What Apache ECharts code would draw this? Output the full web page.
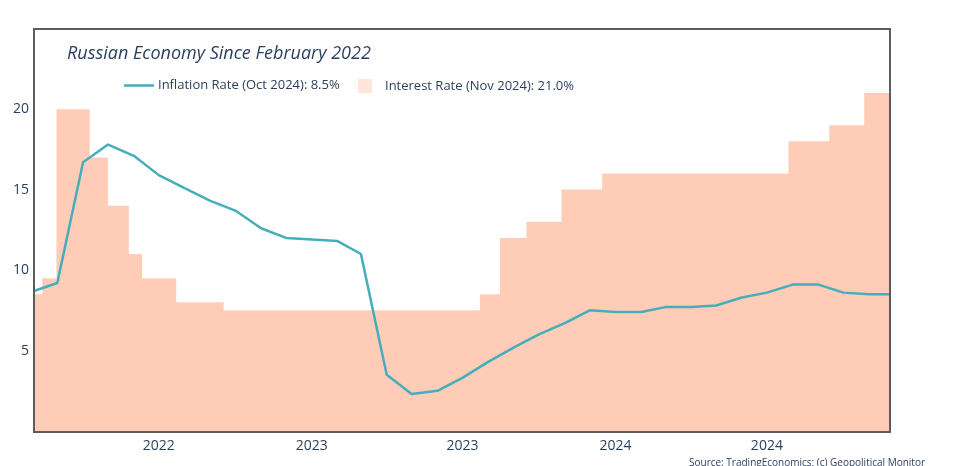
<!DOCTYPE html>
<html>
<head>
<meta charset="utf-8">
<style>
  html, body { margin: 0; padding: 0; background: #fff; overflow: hidden; }
  #chart { width: 970px; height: 466px; }
</style>
<script src="https://cdn.jsdelivr.net/npm/echarts@6/dist/echarts.min.js"></script>
</head>
<body>
<div id="chart"></div>
<script>
// 通胀率 (monthly)
var inflationDates = ['2022-02-01','2022-03-01','2022-04-01','2022-05-01','2022-06-01','2022-07-01','2022-08-01','2022-09-01','2022-10-01','2022-11-01','2022-12-01','2023-01-01','2023-02-01','2023-03-01','2023-04-01','2023-05-01','2023-06-01','2023-07-01','2023-08-01','2023-09-01','2023-10-01','2023-11-01','2023-12-01','2024-01-01','2024-02-01','2024-03-01','2024-04-01','2024-05-01','2024-06-01','2024-07-01','2024-08-01','2024-09-01','2024-10-01','2024-11-01','2024-11-26']
var inflationValues = [8.7,9.2,16.7,17.8,17.1,15.9,15.1,14.3,13.7,12.6,12.0,11.9,11.8,11.0,3.5,2.3,2.5,3.3,4.3,5.2,6.0,6.7,7.5,7.4,7.4,7.7,7.7,7.8,8.3,8.6,9.1,9.1,8.6,8.5,8.5]

// 利率 (each date is where the rate changes)
var rateDates = ['2022-02-01','2022-02-11','2022-02-28','2022-04-09','2022-05-01','2022-05-26','2022-06-11','2022-07-22','2022-09-17','2023-07-22','2023-08-15','2023-09-16','2023-10-28','2023-12-16','2024-07-27','2024-09-14','2024-10-26','2024-11-26']
var rateValues = [8.5,9.5,20,17,14,11,9.5,8,7.5,8.5,12,13,15,16,18,19,21,21]

var xTickDates = ['2022-07-01','2023-01-01','2023-07-01','2024-01-01','2024-07-01']
var yTicks = [5,10,15,20]

var inflationName = 'Inflation Rate (Oct 2024): 8.5%'
var rateName = 'Interest Rate (Nov 2024): 21.0%'
var titleText = 'Russian Economy Since February 2022'
var sourceText = 'Source: TradingEconomics; (c) Geopolitical Monitor'

var textColor = '#2a3f5f'
var fontName = '"Open Sans", sans-serif'

function ms(d) {
  return +echarts.time.parse(d)
}
function pairs(xs, ys) {
  return xs.map(function (x, i) { return [ms(x), ys[i]] })
}

var myChart = echarts.init(document.getElementById('chart'), null, { renderer: 'canvas' })
myChart.setOption({
  animation: false,
  backgroundColor: '#fff',
  title: {
    text: titleText,
    left: 67, top: 45, padding: 0,
    textStyle: { color: textColor, fontFamily: fontName, fontStyle: 'italic', fontWeight: 'normal', fontSize: 18 }
  },
  legend: [
    {
      data: [{ name: inflationName, icon: 'rect' }],
      left: 124, top: 79, padding: 0, itemWidth: 30, itemHeight: 2.5, itemGap: 0,
      textStyle: { color: textColor, fontFamily: fontName, fontSize: 13, padding: [2, 0, 0, -1] }
    },
    {
      data: [{ name: rateName, icon: 'rect', itemStyle: { color: '#ffe5da', opacity: 1 } }],
      left: 358, top: 79, padding: 0, itemWidth: 14, itemHeight: 14, itemGap: 0,
      textStyle: { color: textColor, fontFamily: fontName, fontSize: 13, padding: [0, 0, 0, 8] }
    }
  ],
  grid: {
    left: 34, right: 80, top: 29, bottom: 34,
    show: true, z: 5,
    backgroundColor: 'transparent',
    borderColor: '#5c5c5c', borderWidth: 2
  },
  xAxis: {
    type: 'value',
    min: ms('2022-02-01'),
    max: ms('2024-11-26'),
    axisLine: { show: false },
    axisTick: { show: false },
    splitLine: { show: false },
    axisLabel: {
      customValues: xTickDates.map(ms),
      formatter: function (v) { return String(new Date(v).getFullYear()) },
      color: textColor, fontFamily: fontName, fontSize: 14, margin: 7,
      hideOverlap: false
    }
  },
  yAxis: {
    type: 'value',
    min: -0.06, max: 24.98,
    axisLine: { show: false },
    axisTick: { show: false },
    splitLine: { show: false },
    axisLabel: {
      customValues: yTicks,
      color: textColor, fontFamily: fontName, fontSize: 14, margin: 5
    }
  },
  series: [
    {
      name: rateName,
      type: 'line',
      step: 'end',
      symbol: 'none',
      z: 1,
      lineStyle: { width: 0 },
      itemStyle: { color: '#ffcdb7' },
      areaStyle: { color: '#ffcdb7', opacity: 1 },
      data: pairs(rateDates, rateValues)
    },
    {
      name: inflationName,
      type: 'line',
      symbol: 'none',
      z: 3,
      lineStyle: { color: '#45aebb', width: 2.5 },
      itemStyle: { color: '#45aebb' },
      data: pairs(inflationDates, inflationValues)
    }
  ],
  graphic: [
    {
      type: 'text', left: 689, top: 458,
      style: { text: sourceText, fill: textColor, font: '10px "Open Sans", sans-serif' }
    }
  ]
})
</script>
</body>
</html>
